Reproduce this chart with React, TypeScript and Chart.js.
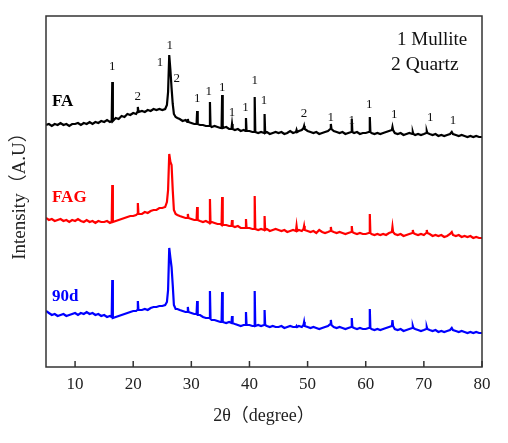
import React, { useRef, useEffect } from 'react';
import Chart from 'chart.js/auto';

// 2θ grid (degrees), shared by the three patterns
const twoTheta = [
  5.0, 5.5, 6.0, 6.5, 7.0, 7.5, 8.0, 8.5, 9.0, 9.5,
  10.0, 10.5, 11.0, 11.5, 12.0, 12.5, 13.0, 13.5, 14.0, 14.5,
  15.0, 15.5, 16.0, 16.3, 16.4, 16.5, 17.0, 17.5, 18.0, 18.5, 19.0, 19.5,
  20.0, 20.5, 20.7, 20.8, 20.9, 21.5, 22.0, 22.5, 23.0, 23.5, 24.0, 24.5,
  25.0, 25.5, 25.8, 26.0, 26.2, 26.4, 26.6, 26.8, 27.0, 27.3, 27.6, 28.0, 28.5, 29.0, 29.3, 29.4, 29.5,
  30.0, 30.5, 30.9, 31.0, 31.1, 31.5, 32.0, 32.5, 33.1, 33.2, 33.3, 33.5, 34.0, 34.5,
  35.0, 35.2, 35.3, 35.4, 36.0, 36.5, 36.9, 37.0, 37.1, 37.5, 38.0, 38.5, 39.0, 39.3, 39.4, 39.5,
  40.0, 40.5, 40.8, 40.9, 41.0, 41.5, 42.0, 42.5, 42.6, 42.7, 43.0, 43.5, 44.0, 44.5,
  45.0, 45.5, 46.0, 46.5, 47.0, 47.5, 48.0, 48.1, 48.2, 48.5, 49.0, 49.3, 49.4, 49.5,
  50.0, 50.5, 51.0, 51.5, 52.0, 52.5, 53.0, 53.5, 53.9, 54.0, 54.1, 54.5,
  55.0, 55.5, 56.0, 56.5, 57.0, 57.5, 57.6, 57.7, 58.0, 58.5, 59.0, 59.5,
  60.0, 60.5, 60.6, 60.7, 60.8, 61.0, 61.5, 62.0, 62.5, 63.0, 63.5, 64.0, 64.5, 64.6, 64.7,
  65.0, 65.5, 66.0, 66.5, 67.0, 67.5, 68.0, 68.1, 68.2, 68.5, 69.0, 69.5,
  70.0, 70.4, 70.5, 70.6, 71.0, 71.5, 72.0, 72.5, 73.0, 73.5, 74.0, 74.5, 74.8,
  75.0, 75.5, 76.0, 76.5, 77.0, 77.5, 78.0, 78.5, 79.0, 79.5, 80.0,
];

// intensities (a.u., patterns already offset)
const faIntensity = [
  242, 243, 241, 243, 242, 244, 242, 243, 241, 243,
  243, 244, 242, 244, 243, 245, 243, 245, 244, 246,
  245, 247, 245, 246, 285, 246, 249, 248, 251, 250, 253, 252,
  254, 253, 255, 260, 255, 256, 255, 257, 256, 258, 257, 258,
  257, 258, 262, 275, 312, 297, 279, 263, 253, 250, 249, 248, 246, 247, 245, 248, 245,
  244, 243, 243, 256, 243, 242, 242, 241, 241, 265, 241, 240, 241, 240,
  239, 239, 272, 239, 240, 238, 238, 243, 238, 237, 238, 236, 237, 236, 249, 236,
  236, 235, 235, 270, 235, 234, 235, 234, 253, 234, 235, 233, 234, 235,
  234, 235, 233, 234, 236, 234, 235, 237, 235, 236, 237, 239, 241, 238,
  236, 235, 234, 235, 233, 234, 235, 236, 238, 243, 238, 236,
  235, 234, 235, 233, 234, 235, 248, 235, 234, 235, 233, 234,
  234, 235, 235, 250, 235, 234, 233, 234, 233, 234, 235, 236, 237, 240, 237,
  234, 233, 234, 232, 233, 234, 233, 235, 233, 232, 233, 232,
  233, 234, 236, 234, 233, 232, 233, 231, 232, 231, 232, 233, 235,
  233, 232, 231, 232, 231, 230, 231, 230, 231, 230, 230,
];

const fagIntensity = [
  149, 147, 148, 146, 147, 148, 146, 147, 145, 147,
  146, 148, 146, 145, 147, 145, 146, 144, 146, 145,
  145, 146, 144, 145, 182, 145, 146, 147, 148, 149, 150, 151,
  151, 152, 153, 164, 153, 153, 155, 154, 156, 157, 157, 159,
  159, 160, 165, 177, 213, 205, 202, 177, 157, 153, 152, 151, 150, 149, 149, 153, 149,
  148, 147, 147, 160, 147, 146, 145, 146, 144, 168, 144, 145, 144, 143,
  143, 142, 170, 142, 142, 141, 141, 147, 141, 140, 141, 139, 139, 139, 148, 139,
  139, 138, 138, 171, 138, 137, 138, 137, 151, 137, 138, 136, 137, 138,
  137, 136, 137, 135, 136, 137, 136, 141, 136, 137, 136, 138, 141, 137,
  136, 135, 136, 134, 137, 135, 134, 135, 136, 140, 136, 135,
  134, 135, 134, 133, 134, 135, 141, 135, 134, 133, 134, 133,
  133, 134, 134, 153, 134, 133, 132, 133, 132, 133, 132, 134, 135, 140, 135,
  133, 132, 133, 131, 132, 133, 134, 137, 134, 133, 132, 133,
  132, 134, 137, 134, 133, 131, 132, 131, 132, 130, 131, 133, 135,
  132, 131, 132, 130, 131, 130, 131, 129, 130, 129, 129,
];

const d90Intensity = [
  56, 54, 52, 53, 51, 52, 53, 51, 52, 53,
  54, 52, 54, 53, 55, 53, 54, 52, 53, 51,
  52, 50, 51, 50, 87, 49, 50, 51, 52, 53, 54, 55,
  56, 56, 57, 66, 57, 57, 58, 57, 59, 60, 60, 61,
  61, 62, 65, 77, 119, 109, 100, 82, 62, 58, 58, 57, 56, 55, 55, 60, 55,
  54, 53, 53, 66, 52, 52, 50, 49, 49, 76, 48, 47, 47, 46,
  45, 45, 75, 45, 44, 45, 44, 51, 44, 43, 42, 41, 42, 42, 55, 42,
  42, 41, 41, 76, 41, 42, 41, 42, 57, 42, 41, 40, 41, 40,
  40, 41, 39, 40, 41, 40, 40, 41, 40, 41, 40, 42, 45, 41,
  40, 39, 40, 39, 38, 39, 40, 41, 43, 47, 42, 40,
  39, 40, 39, 38, 39, 40, 49, 40, 39, 38, 39, 38,
  38, 39, 39, 58, 39, 38, 37, 38, 37, 38, 39, 40, 41, 47, 41,
  38, 37, 38, 36, 37, 38, 39, 41, 39, 38, 37, 36,
  37, 38, 40, 38, 37, 36, 37, 35, 36, 35, 36, 37, 39,
  37, 36, 35, 36, 35, 34, 35, 34, 35, 34, 34,
];

const sampleNames = ['FA', 'FAG', '90d'];
const sampleColors = ['#000000', '#ff0000', '#0000ff'];
const sampleLabelY = [265, 169, 70];

const xTicks = [10, 20, 30, 40, 50, 60, 70, 80];

// phase marks above the FA pattern: 1 = mullite, 2 = quartz
const peakMarkX = [16.4, 20.8, 24.6, 26.3, 27.5, 31.0, 33.0, 35.3, 37.0, 39.3, 40.9, 42.5, 49.4, 54.0, 57.6, 60.6, 64.9, 71.1, 75.0];
const peakMarkY = [300, 270, 304, 321, 288, 268, 275, 279, 254, 259, 286, 266, 253, 249, 246, 262, 252, 249, 246];
const peakMarkText = ['1', '2', '1', '1', '2', '1', '1', '1', '1', '1', '1', '1', '2', '1', '1', '1', '1', '1', '1'];

const phaseLegend = ['1 Mullite', '2 Quartz'];

const SERIF = "'Liberation Serif', 'Times New Roman', 'Noto Sans CJK SC', serif";

const xrdDecor = {
  id: 'xrdDecor',
  afterDatasetsDraw(chart: any) {
    const { ctx, chartArea, scales } = chart;
    const x = scales.x;
    const y = scales.y;
    ctx.save();

    // frame
    ctx.strokeStyle = '#333';
    ctx.lineWidth = 1.5;
    ctx.strokeRect(chartArea.left, chartArea.top, chartArea.right - chartArea.left, chartArea.bottom - chartArea.top);

    // inward ticks on the bottom axis
    ctx.beginPath();
    xTicks.forEach((t) => {
      const px = x.getPixelForValue(t);
      ctx.moveTo(px, chartArea.bottom);
      ctx.lineTo(px, chartArea.bottom - 6);
    });
    ctx.stroke();

    // peak marks
    ctx.fillStyle = '#111';
    ctx.font = `13px ${SERIF}`;
    ctx.textAlign = 'center';
    ctx.textBaseline = 'middle';
    peakMarkText.forEach((txt, i) => {
      ctx.fillText(txt, x.getPixelForValue(peakMarkX[i]), y.getPixelForValue(peakMarkY[i]));
    });

    // sample names
    ctx.textAlign = 'left';
    sampleNames.forEach((name, i) => {
      ctx.fillStyle = sampleColors[i];
      ctx.font = `bold 17px ${SERIF}`;
      ctx.fillText(name, chartArea.left + 6, y.getPixelForValue(sampleLabelY[i]));
    });

    // phase key
    ctx.fillStyle = '#111';
    ctx.textAlign = 'left';
    ctx.font = `19px ${SERIF}`;
    ctx.fillText(phaseLegend[0], chartArea.left + 351, chartArea.top + 24);
    ctx.font = `19.5px ${SERIF}`;
    ctx.fillText(phaseLegend[1], chartArea.left + 345, chartArea.top + 49);

    ctx.restore();
  },
};

const App: React.FC = () => {
  const canvasRef = useRef<HTMLCanvasElement>(null);

  useEffect(() => {
    if (!canvasRef.current) return;
    const series = [faIntensity, fagIntensity, d90Intensity];
    const chart = new Chart(canvasRef.current, {
      type: 'line',
      data: {
        datasets: series.map((vals, i) => ({
          label: sampleNames[i],
          data: twoTheta.map((t, j) => ({ x: t, y: vals[j] })),
          borderColor: sampleColors[i],
          borderWidth: 2.2,
          pointRadius: 0,
          tension: 0,
          fill: false,
        })),
      },
      options: {
        responsive: false,
        animation: false,
        layout: { padding: { top: 16, right: 26, left: 0, bottom: 0 } },
        plugins: { legend: { display: false }, tooltip: { enabled: false } },
        scales: {
          x: {
            type: 'linear',
            min: 5,
            max: 80,
            afterBuildTicks: (scale: any) => {
              scale.ticks = xTicks.map((v) => ({ value: v }));
            },
            afterFit: (scale: any) => {
              scale.height = 76;
            },
            grid: { display: false, drawTicks: false },
            border: { display: false },
            ticks: {
              padding: 7,
              maxRotation: 0,
              color: '#222',
              font: { family: SERIF, size: 17 },
            },
            title: {
              display: true,
              text: '2θ（degree）',
              color: '#222',
              font: { family: SERIF, size: 18 },
              padding: { top: 0, bottom: 16 },
            },
          },
          y: {
            type: 'linear',
            min: 0,
            max: 351,
            afterFit: (scale: any) => {
              scale.width = 46;
            },
            grid: { display: false, drawTicks: false },
            border: { display: false },
            ticks: { display: false },
            title: {
              display: true,
              text: 'Intensity（A.U）',
              color: '#222',
              font: { family: SERIF, size: 19 },
              padding: { top: 9, bottom: 0 },
            },
          },
        },
      },
      plugins: [xrdDecor],
    });
    return () => chart.destroy();
  }, []);

  return (
    <div style={{ position: 'fixed', left: 0, top: 0, width: 508, height: 443, background: '#fff' }}>
      <canvas ref={canvasRef} width={508} height={443} style={{ width: 508, height: 443 }} />
    </div>
  );
};

export default App;
